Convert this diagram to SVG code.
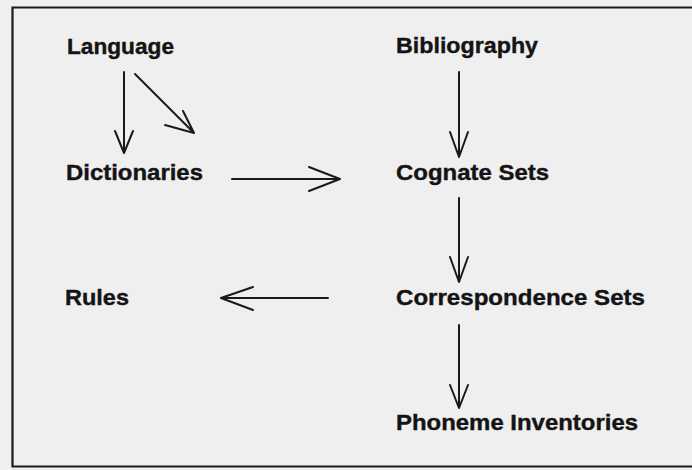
<svg xmlns="http://www.w3.org/2000/svg" width="692" height="470" viewBox="0 0 692 470">
<style>
.lbl{font-family:"Liberation Sans",Arial,Helvetica,sans-serif;font-weight:bold;font-size:22.5px;fill:#141414;stroke:#141414;stroke-width:0.4}
.ln{stroke:#1a1a1a;stroke-width:2;fill:none;stroke-linecap:round;stroke-linejoin:round}
.frame{stroke:#1a1a1a;stroke-width:2.2;fill:none}
</style>
<rect x="0" y="0" width="692" height="470" fill="#efefef"/>
<path class="frame" d="M692,7.5 H12.5 V466.5 H692"/>
<g id="node-language"><text class="lbl" x="67" y="54" textLength="107" lengthAdjust="spacingAndGlyphs">Language</text></g>
<g id="node-bibliography"><text class="lbl" x="396" y="53" textLength="142" lengthAdjust="spacingAndGlyphs">Bibliography</text></g>
<g id="node-dictionaries"><text class="lbl" x="66" y="180" textLength="137" lengthAdjust="spacingAndGlyphs">Dictionaries</text></g>
<g id="node-cognate"><text class="lbl" x="396" y="180" textLength="153" lengthAdjust="spacingAndGlyphs">Cognate Sets</text></g>
<g id="node-rules"><text class="lbl" x="65" y="305" textLength="64" lengthAdjust="spacingAndGlyphs">Rules</text></g>
<g id="node-correspondence"><text class="lbl" x="396" y="305" textLength="249" lengthAdjust="spacingAndGlyphs">Correspondence Sets</text></g>
<g id="node-phoneme"><text class="lbl" x="396" y="430" textLength="242" lengthAdjust="spacingAndGlyphs">Phoneme Inventories</text></g>
<g id="connectors">
<path class="ln" d="M124,72 V153 M115,131 L124,153 L133,131"/>
<path class="ln" d="M135,74 L194,133 M165,125 L194,133 L183,111"/>
<path class="ln" d="M459,72 V157 M450,132 L459,157 L468,132"/>
<path class="ln" d="M232,179 H340 M309,167 L340,179 L309,191"/>
<path class="ln" d="M459,198 V282 M450,257 L459,282 L468,257"/>
<path class="ln" d="M328,298 H221 M253,287 L221,298 L253,310"/>
<path class="ln" d="M459,325 V408 M450,385 L459,408 L468,385"/>
</g>
</svg>
